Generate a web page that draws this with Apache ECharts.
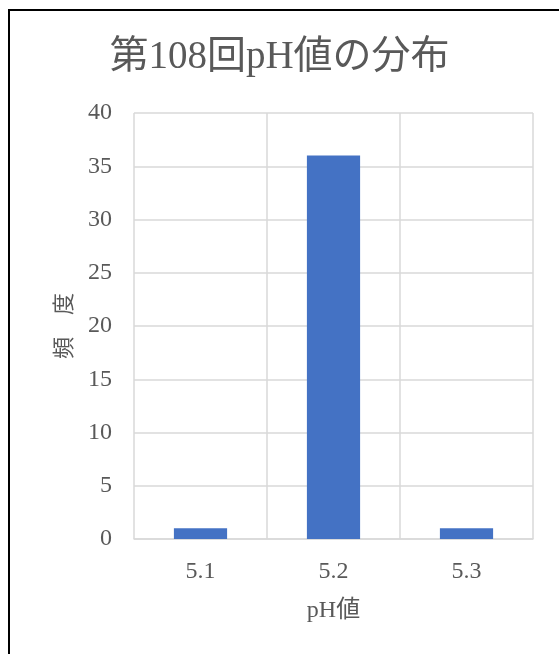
<!DOCTYPE html>
<html>
<head>
<meta charset="utf-8">
<script src="https://cdn.jsdelivr.net/npm/echarts@6/dist/echarts.min.js"></script>
<style>
  html, body { margin: 0; padding: 0; background: #fff; overflow: hidden; }
  #frame { position: absolute; left: 8px; top: 9px; width: 600px; height: 700px; border: 2px solid #000; box-sizing: border-box; }
  #chart { position: absolute; left: 0; top: 0; width: 559px; height: 654px; }
</style>
</head>
<body>
<div id="frame"></div>
<div id="chart"></div>
<script>
// pH distribution, 108th run
const categories = ['5.1', '5.2', '5.3'];
const counts = [1, 36, 1];
const titleText = '第108回pH値の分布';
const xName = 'pH値';
const yName = '頻　度';

const FONT = "'Liberation Serif', 'Noto Sans CJK JP', serif";
const TEXT = '#595959';
const GRID = '#d9d9d9';

const chart = echarts.init(document.getElementById('chart'));
chart.setOption({
  animation: false,
  title: {
    text: titleText,
    left: 'center',
    top: 33,
    textStyle: { fontFamily: FONT, fontSize: 39, fontWeight: 'normal', color: TEXT }
  },
  grid: { left: 134, right: 26, top: 113, bottom: 115 },
  xAxis: {
    type: 'category',
    data: categories,
    name: xName,
    nameLocation: 'middle',
    nameGap: 60,
    nameTextStyle: { fontFamily: FONT, fontSize: 24, color: TEXT },
    axisLine: { show: true, lineStyle: { color: GRID, width: 1.5 } },
    axisTick: { show: false },
    axisLabel: { fontFamily: FONT, fontSize: 24, color: TEXT, margin: 21 },
    splitLine: { show: true, lineStyle: { color: GRID, width: 1.5 } }
  },
  yAxis: {
    type: 'value',
    min: 0,
    max: 40,
    interval: 5,
    name: yName,
    nameLocation: 'middle',
    nameRotate: 90,
    nameGap: 58,
    nameTextStyle: { fontFamily: FONT, fontSize: 22, color: TEXT },
    axisLine: { show: false },
    axisTick: { show: false },
    axisLabel: { fontFamily: FONT, fontSize: 24, color: TEXT, margin: 22 },
    splitLine: { show: true, lineStyle: { color: GRID, width: 1.5 } }
  },
  series: [{
    type: 'bar',
    data: counts,
    barWidth: '40%',
    itemStyle: { color: '#4472C4' }
  }]
});
</script>
</body>
</html>
